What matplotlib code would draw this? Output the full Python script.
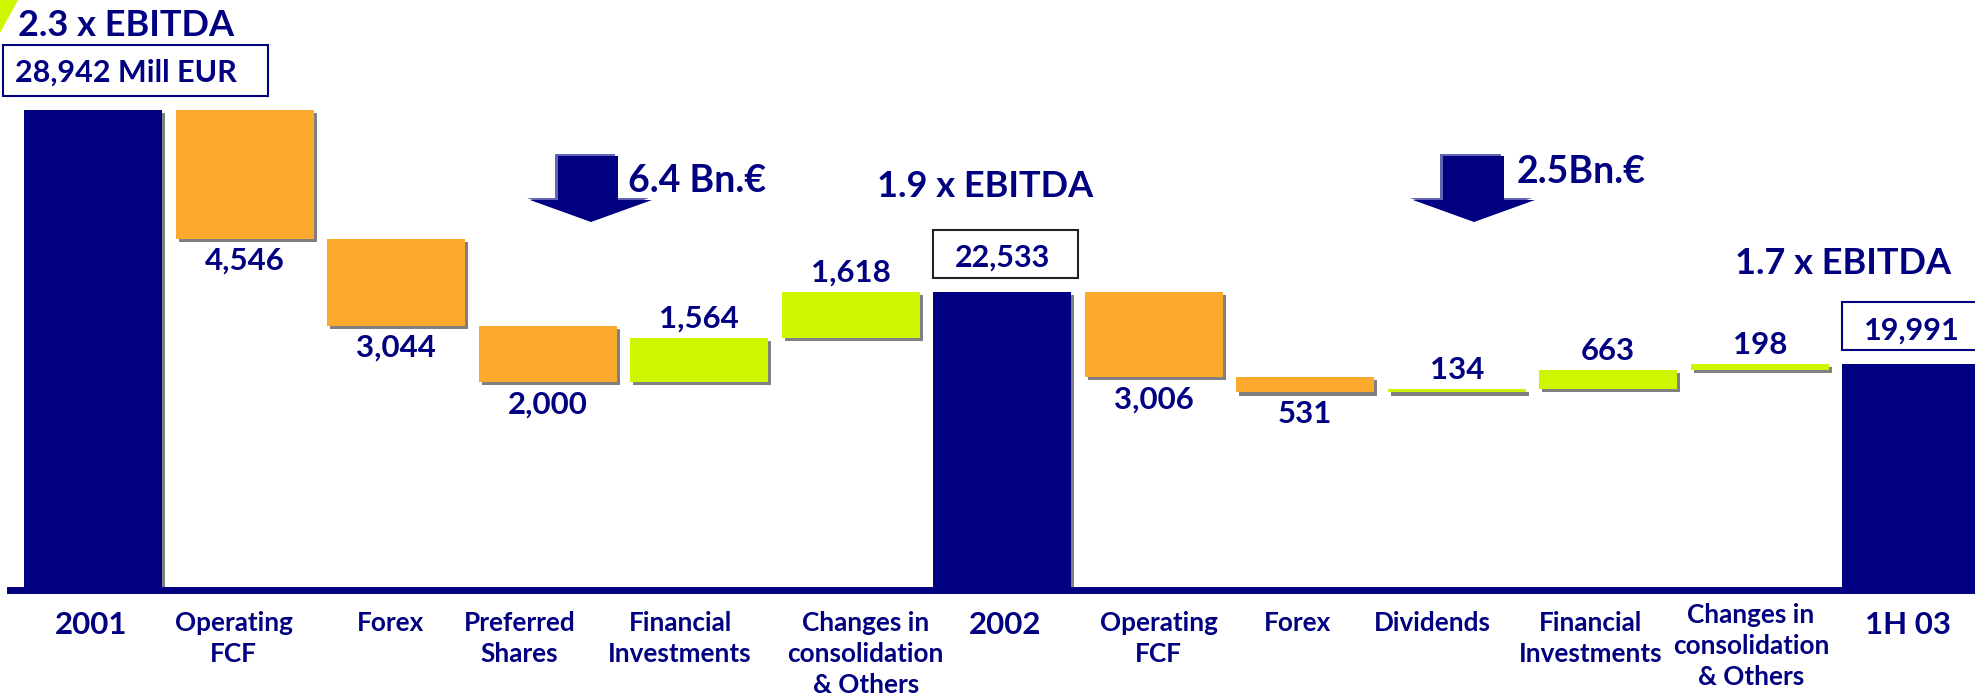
import matplotlib.pyplot as plt
import matplotlib.patheffects as pe
from matplotlib.patches import Polygon, Rectangle
import numpy as np

plt.rcParams['font.family'] = ['Lato', 'DejaVu Sans']

# Данные для графика
categories = ['2001', 'Operating\nFCF', 'Forex', 'Preferred\nShares', 'Financial\nInvestments',
              'Changes in\nconsolidation\n& Others', '2002', 'Operating\nFCF', 'Forex', 'Dividends',
              'Financial\nInvestments', 'Changes in\nconsolidation\n& Others', '1H 03']
values = [28942, -4546, -3044, -2000, 1564, 1618, 22533, -3006, -531, 134, 663, 198, 19991]
is_total = [True, False, False, False, False, False, True, False, False, False, False, False, True]
ebitda = ['2.3 x EBITDA', '1.9 x EBITDA', '1.7 x EBITDA']
reductions = ['6.4 Bn.€', '2.5Bn.€']

NAVY = '#000080'
ORANGE = '#FCA930'
LIME = '#D0F500'
W, H = 1975, 694
y_floor, y_top = 12040, 32815

fig = plt.figure(figsize=(W / 100, H / 100), dpi=100)
ax = fig.add_axes([10 / W, 104 / H, 1 - 10 / W, 590 / H])
ax.set_xlim(-0.548, 12.42)
ax.set_ylim(y_floor, y_top)
ppu = 590 / (y_top - y_floor)  # пикселей на единицу

# waterfall
x = np.arange(len(values))
bottoms, heights, colors = [], [], []
running = 0
for v, tot in zip(values, is_total):
    if tot:
        bottoms.append(y_floor)
        heights.append(v - y_floor)
        colors.append(NAVY)
        running = v
    else:
        new = running + v
        bottoms.append(min(running, new))
        heights.append(abs(v))
        colors.append(ORANGE if v < 0 else LIME)
        running = new

shadow = [pe.SimplePatchShadow(offset=(2.2, -2.2), shadow_rgbFace='#808080', alpha=1.0), pe.Normal()]
bw = 0.91
ax.bar(x, heights, bottom=bottoms, width=bw, color=colors, path_effects=shadow, zorder=2)

txt = dict(color=NAVY, weight='bold')
for i, (v, tot) in enumerate(zip(values, is_total)):
    if tot:
        continue
    if v < 0:
        ax.annotate(f'{abs(v):,}', (x[i], bottoms[i]), xytext=(0, -22.3), textcoords='offset points',
                    ha='center', va='baseline', fontsize=22.5, **txt)
    else:
        ax.annotate(f'{v:,}', (x[i], bottoms[i] + heights[i]), xytext=(0, 7.2), textcoords='offset points',
                    ha='center', va='baseline', fontsize=22.5, **txt)

# рамки с итогами 2002 и 1H 03
for i, ec in [(6, '#222222'), (12, NAVY)]:
    top = bottoms[i] + heights[i]
    ax.add_patch(Rectangle((x[i] - bw / 2, top + 14 / ppu), bw + 7 / 151.5, 48 / ppu,
                           facecolor='white', edgecolor=ec, lw=1.5, zorder=3, clip_on=False))
    ax.annotate(f'{values[i]:,}', (x[i], top), xytext=(0, 18), textcoords='offset points',
                ha='center', va='baseline', fontsize=22, zorder=4, **txt)

# ось
for s in ['top', 'right', 'left']:
    ax.spines[s].set_visible(False)
ax.spines['bottom'].set_color(NAVY)
ax.spines['bottom'].set_linewidth(5)
ax.spines['bottom'].set_zorder(3)
ax.set_yticks([])
ax.set_xticks([])

label_dx = [-2, -11, -6, -28, -19, 15, 3, 5, -8, -24, -18, -9, -3]
for i, lab in enumerate(categories):
    dy = -21
    if i == 11:
        dy += 8
    ax.annotate(lab, (x[i], y_floor), xytext=(label_dx[i] * 0.72, dy * 0.72), textcoords='offset points',
                ha='center', va='top', fontsize=22.5 if is_total[i] else 18.8,
                linespacing=1.35, annotation_clip=False, **txt)


def fpt(px, py):
    return px / W, 1 - py / H


# заголовки
fig.text(*fpt(18, 36), ebitda[0], fontsize=26, ha='left', va='baseline', **txt)
fig.text(*fpt(877, 197), ebitda[1], fontsize=26, ha='left', va='baseline', **txt)
fig.text(*fpt(1735, 274), ebitda[2], fontsize=26, ha='left', va='baseline', **txt)

fig.patches.append(Rectangle(fpt(3, 96), 265 / W, 51 / H, transform=fig.transFigure,
                             facecolor='white', edgecolor=NAVY, lw=1.5))
fig.text(*fpt(15, 82), f'{values[0]:,} Mill EUR', fontsize=22, ha='left', va='baseline', **txt)

# зелёный уголок
fig.patches.append(Polygon([fpt(0, 0), fpt(18, 0), fpt(0, 33)], transform=fig.transFigure,
                           facecolor=LIME, edgecolor='none'))


def arrow(sl, sr, hl, hr, top=156, neck=200, tip=222):
    pts = [(sl, top), (sr, top), (sr, neck), (hr, neck), ((hl + hr) / 2, tip), (hl, neck), (sl, neck)]
    back = [fpt(px - 3, py - 2) for px, py in pts]
    fig.patches.append(Polygon(back, transform=fig.transFigure, facecolor='#6464b4', edgecolor='none'))
    fig.patches.append(Polygon([fpt(px, py) for px, py in pts], transform=fig.transFigure,
                               facecolor=NAVY, edgecolor='none'))


arrow(558, 618, 530, 652)
arrow(1443, 1504, 1413, 1535)
fig.text(*fpt(628, 192), reductions[0], fontsize=27, ha='left', va='baseline', **txt)
fig.text(*fpt(1517, 183), reductions[1], fontsize=27, ha='left', va='baseline', **txt)

fig.savefig('out.png', dpi=100)
